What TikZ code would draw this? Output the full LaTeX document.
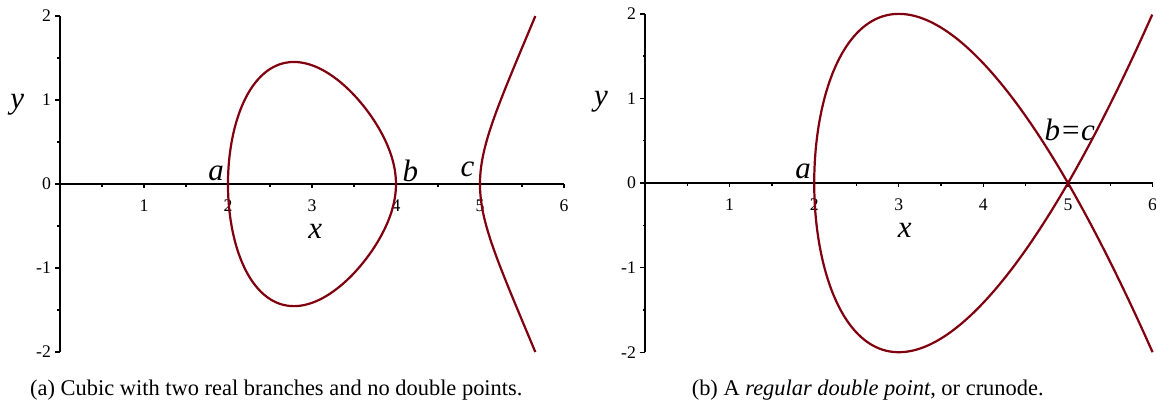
\documentclass[tikz,border=0pt]{standalone}
\usepackage{fontspec}
\setmainfont{Liberation Serif}
\usetikzlibrary{positioning}
\definecolor{maple}{RGB}{128,0,16}

\begin{document}
\begin{tikzpicture}[
    x=1cm, y=1cm,
    axis/.style={line width=0.5pt},
    tick/.style={line width=0.45pt},
    curve/.style={maple, line width=0.75pt, line join=round},
    num/.style={font=\fontsize{6}{7}\selectfont, inner sep=0pt},
    lab/.style={font=\fontsize{10.5}{12}\selectfont\itshape, inner sep=0pt},
    captext/.style={font=\fontsize{7.6}{9}\selectfont, inner sep=0pt, anchor=base},
]
\useasboundingbox (0,0) rectangle (13.762,4.81);

% --- (a): two real branches, no double point ---------------------------------
\begin{scope}[shift={(0.714,2.619)}]
\draw[axis] (0,0) -- (6,0);
\draw[axis] (0,-2) -- (0,2);
\foreach \t in {0.5,1.5,...,5.5} \draw[tick] (\t,0) -- (\t,-0.03);
\foreach \t in {1,...,6} {
    \draw[tick] (\t,0) -- (\t,-0.05);
    \node[num, anchor=north] (xa\t) at (\t,-0.18) {\t};
}
\foreach \t in {-1.5,-0.5,0.5,1.5} \draw[tick] (0,\t) -- (-0.03,\t);
\foreach \t [count=\i] in {-2,...,2} {
    \draw[tick] (0,\t) -- (-0.06,\t);
    \node[num, anchor=east] (ya\i) at (-0.1,\t) {\t};
}
\node[lab] (xlaba) at (3.04,-0.56) {x};
\node[lab] (ylaba) at (-0.51,0.94) {y};
\node[lab] (pa) at (1.86,0.13) {a};
\node[lab] (pb) at (4.17,0.16) {b};
\node[lab] (pc) at (4.85,0.17) {c};
% oval between a and b, then the branch through c
\draw[curve] plot[domain=0:180, samples=145, smooth, variable=\t]
    ({2+2*sin(\t)*sin(\t)}, {sin(2*\t)*sqrt(3-2*sin(\t)*sin(\t))}) -- cycle;
\draw[curve] plot[domain=-0.8118:0.8118, samples=81, smooth, variable=\s]
    ({5+\s*\s}, {\s*sqrt((3+\s*\s)*(1+\s*\s))});
\end{scope}
\node[captext] (capa) at (3.29,0.1) {(a) Cubic with two real branches and no double points.};

% --- (b): b and c meet in a crunode ------------------------------------------
\begin{scope}[shift={(7.679,2.631)}, scale=1.007]
\draw[axis] (0,0) -- (6,0);
\draw[axis] (0,-2) -- (0,2);
\foreach \t in {0.5,1.5,...,5.5} \draw[tick] (\t,0) -- (\t,-0.03);
\foreach \t in {1,...,6} {
    \draw[tick] (\t,0) -- (\t,-0.05);
    \node[num, anchor=north] (xb\t) at (\t,-0.18) {\t};
}
\foreach \t in {-1.5,-0.5,0.5,1.5} \draw[tick] (0,\t) -- (-0.03,\t);
\foreach \t [count=\i] in {-2,...,2} {
    \draw[tick] (0,\t) -- (-0.06,\t);
    \node[num, anchor=east] (yb\i) at (-0.1,\t) {\t};
}
\node[lab] (xlabb) at (3.07,-0.56) {x};
\node[lab] (ylabb) at (-0.52,0.96) {y};
\node[lab] (qa) at (1.87,0.14) {a};
\node[lab] (qbc) at (5.02,0.63) {b=c};
\draw[curve] plot[domain=-2:2, samples=161, smooth, variable=\s]
    ({2+\s*\s}, {\s*(\s*\s-3)});
\end{scope}
\node[captext] (capb) at (10.33,0.1) {(b) A \textit{regular double point}, or crunode.};

\end{tikzpicture}
\end{document}
